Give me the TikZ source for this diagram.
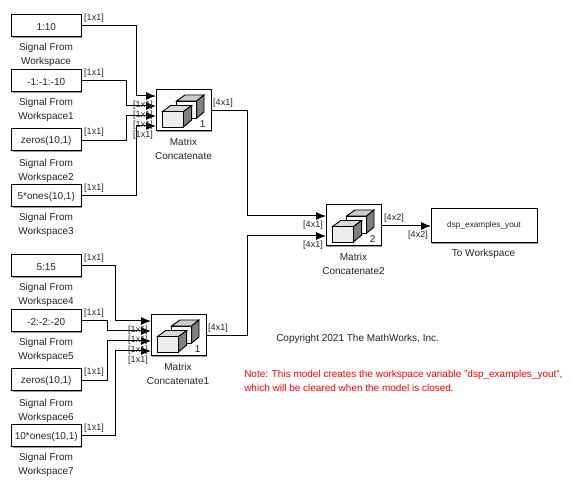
\documentclass[tikz,border=0pt]{standalone}
\usepackage{fontspec}
\setmainfont{Liberation Sans}
\usetikzlibrary{arrows.meta}
\definecolor{shadowc}{gray}{0.6}
\tikzset{
 x=0.75pt,y=-0.75pt,
 wire/.style={draw=black,line width=0.75pt},
 sig/.style={wire,-{Latex[length=7.5pt,width=6pt]}},
 blockcap/.style={font=\fontsize{7.5pt}{10.4pt}\selectfont,align=center,text=black!85,inner sep=0pt},
 dim/.style={font=\fontsize{6.75pt}{8pt}\selectfont,inner sep=0pt,text=black!85},
 blocktext/.style={font=\fontsize{7.5pt}{8pt}\selectfont,inner sep=0pt,text=black!85},
}
\newcommand{\shbox}[5]{% name x y w h
 \fill[shadowc] (#2+1.2,#3+1.2) rectangle (#2+#4+1.2,#3+#5+1.2);
 \draw[fill=white,line width=0.75pt] (#2,#3) rectangle (#2+#4,#3+#5);
 \coordinate (#1) at (#2+#4/2,#3+#5/2);}
\newcommand{\conc}[4]{% name x y label
 \shbox{#1}{#2}{#3}{55}{41}
 \begin{scope}[shift={(#2,#3)},line width=0.7pt]
  \draw[fill=black!20] (20.6,11) -- (29,5) -- (48,5) -- (40.7,11) -- cycle;
  \draw[fill=white] (20.6,11) rectangle (40.7,28);
  \draw[fill=black!50] (40.7,11) -- (48,5) -- (48,22) -- (40.7,28) -- cycle;
  \draw[fill=black!15] (6.3,21.7) -- (14.7,15.5) -- (35.7,15.5) -- (27.3,21.7) -- cycle;
  \draw[fill=black!50] (27.3,21.7) -- (35.7,15.5) -- (35.7,30) -- (27.3,37) -- cycle;
  \draw[fill=black!7] (6.3,21.7) rectangle (27.3,37);
  \node[blocktext] at (46.7,34.5) {#4};
 \end{scope}}
\begin{document}
\begin{tikzpicture}
\useasboundingbox (0,0) rectangle (572,488);
\fill[white] (0,0) rectangle (572,488);

% source blocks
\foreach \n/\y/\t in {s0/15/{1:10},s1/70/{-1:-1:-10},s2/129/{zeros(10,1)},s3/185/{5*ones(10,1)},
  s4/255/{5:15},s5/310/{-2:-2:-20},s6/369/{zeros(10,1)},s7/425/{10*ones(10,1)}}{
  \shbox{\n c}{11.5}{\y}{69.5}{22}
  \node[blocktext] (\n) at (46.25,\y+12) {\t};
}
\coordinate (s0o) at (81,26); \coordinate (s1o) at (81,81); \coordinate (s2o) at (81,141); \coordinate (s3o) at (81,196);
\coordinate (s4o) at (81,266); \coordinate (s5o) at (81,321); \coordinate (s6o) at (81,381); \coordinate (s7o) at (81,436);

\node[blockcap] (l0) at (46,54.5) {Signal From\\Workspace};
\node[blockcap] (l1) at (46,109.5) {Signal From\\Workspace1};
\node[blockcap] (l2) at (46,170.5) {Signal From\\Workspace2};
\node[blockcap] (l3) at (46,224.5) {Signal From\\Workspace3};
\node[blockcap] (l4) at (46,294.5) {Signal From\\Workspace4};
\node[blockcap] (l5) at (46,349.5) {Signal From\\Workspace5};
\node[blockcap] (l6) at (46,410.5) {Signal From\\Workspace6};
\node[blockcap] (l7) at (46,464.5) {Signal From\\Workspace7};

% concatenation blocks
\conc{c0}{156}{90}{1}
\conc{c1}{151}{315}{1}
\conc{c2}{326}{205}{2}
\coordinate (c0o) at (211,110.5);
\coordinate (c1o) at (206,336);
\coordinate (c2o) at (381,226);
\foreach \k/\y in {a/96,b/106,c/116,d/126}{\coordinate (c0\k) at (156,\y);}
\foreach \k/\y in {a/321,b/331,c/341,d/351}{\coordinate (c1\k) at (151,\y);}
\coordinate (c2a) at (326,216); \coordinate (c2b) at (326,236);

\node[blockcap] (lc0) at (183.5,148.5) {Matrix\\Concatenate};
\node[blockcap] (lc1) at (178,373.5) {Matrix\\Concatenate1};
\node[blockcap] (lc2) at (353.5,263.5) {Matrix\\Concatenate2};

% workspace sink
\shbox{tw}{431}{209}{106}{34}
\node[dim,font=\fontsize{6.2pt}{8pt}\selectfont,text=black!85] (twt) at (484,225) {dsp\_examples\_yout};
\coordinate (twi) at (431,226);
\node[blockcap] (ltw) at (483.5,254) {To Workspace};

% connectors
\draw[sig] (s0o) -- (136.5,26) -- (136.5,96) -- (c0a);
\draw[sig] (s1o) -- (126,81) -- (126,106) -- (c0b);
\draw[sig] (s2o) -- (126,141) -- (126,116) -- (c0c);
\draw[sig] (s3o) -- (136.5,196) -- (136.5,126) -- (c0d);
\draw[sig] (s4o) -- (115.5,266) -- (115.5,321) -- (c1a);
\draw[sig] (s5o) -- (107,321) -- (107,331) -- (c1b);
\draw[sig] (s6o) -- (107,381) -- (107,341) -- (c1c);
\draw[sig] (s7o) -- (115.5,436) -- (115.5,351) -- (c1d);
\draw[sig] (c0o) -- (247,110.5) -- (247,216) -- (c2a);
\draw[sig] (c1o) -- (247,336) -- (247,236) -- (c2b);
\draw[sig] (c2o) -- (twi);

% dimension labels
\foreach \x/\y/\t in {
 94/18.5/{[1x1]},94/73.5/{[1x1]},94/132.5/{[1x1]},94/188.5/{[1x1]},
 94/258.5/{[1x1]},94/313.5/{[1x1]},94/372.5/{[1x1]},94/428.5/{[1x1]},
 143/105.5/{[1x1]},143/115.5/{[1x1]},143/125.5/{[1x1]},143/135.5/{[1x1]},
 138/330.5/{[1x1]},138/340.5/{[1x1]},138/350.5/{[1x1]},138/360.5/{[1x1]},
 223/103/{[4x1]},218/328/{[4x1]},
 313/225.5/{[4x1]},313/245.5/{[4x1]},
 394/218/{[4x2]},418/235.5/{[4x2]}}{
  \node[dim] at (\x,\y) {\t};
}

% notes
\node[font=\fontsize{7.5pt}{8pt}\selectfont,anchor=west,inner sep=0pt,text=black!85] (copy) at (276,338.5) {Copyright 2021 The MathWorks, Inc.};
\node[font=\fontsize{7.5pt}{10.4pt}\selectfont,anchor=west,inner sep=0pt,text=red,align=left] (note) at (244,381) {Note: This model creates the workspace variable "dsp\_examples\_yout",\\which will be cleared when the model is closed.};
\end{tikzpicture}
\end{document}
